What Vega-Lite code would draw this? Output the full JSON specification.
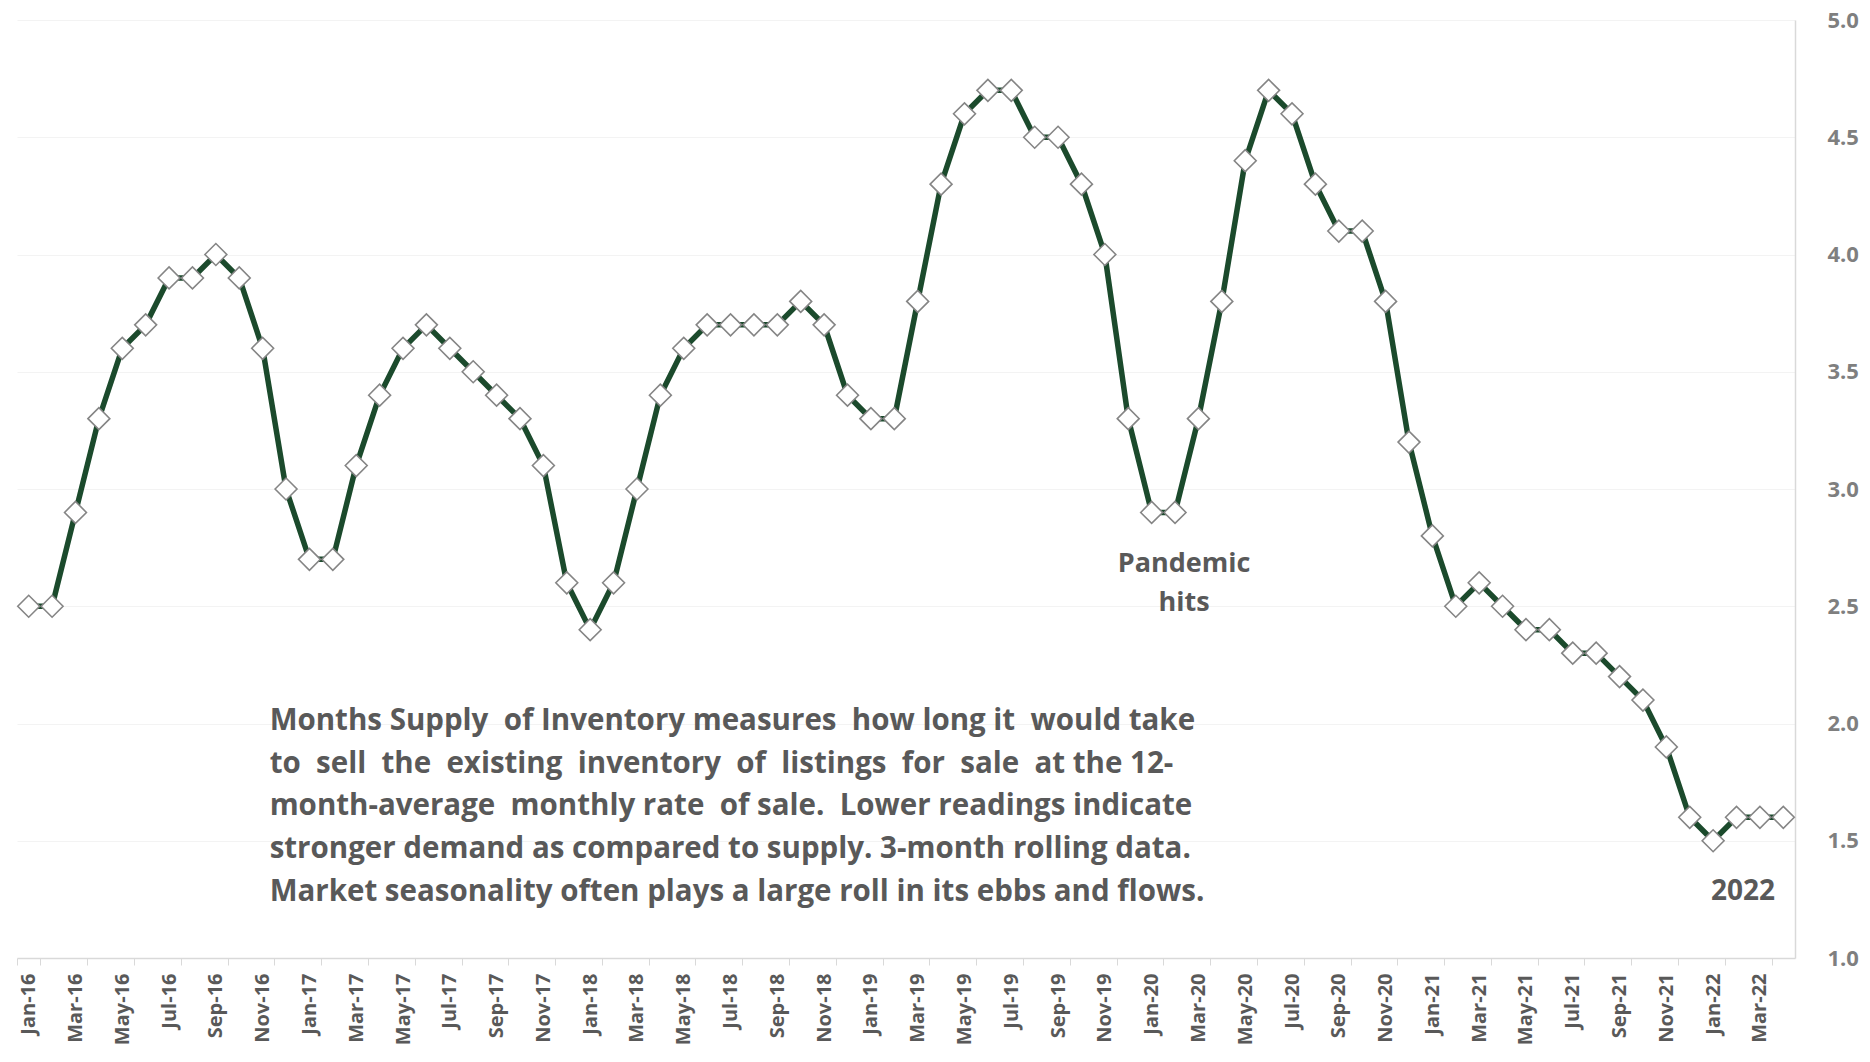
{
  "$schema": "https://vega.github.io/schema/vega-lite/v6.json",
  "width": 1778,
  "height": 938,
  "padding": {"left": 7, "top": 9, "right": 0, "bottom": 0},
  "background": "white",
  "config": {"view": {"stroke": null}, "font": "Open Sans"},
  "datasets": {
    "msi": [
      {"month": "Jan-16", "value": 2.5}, {"month": "Feb-16", "value": 2.5}, {"month": "Mar-16", "value": 2.9}, {"month": "Apr-16", "value": 3.3},
      {"month": "May-16", "value": 3.6}, {"month": "Jun-16", "value": 3.7}, {"month": "Jul-16", "value": 3.9}, {"month": "Aug-16", "value": 3.9},
      {"month": "Sep-16", "value": 4.0}, {"month": "Oct-16", "value": 3.9}, {"month": "Nov-16", "value": 3.6}, {"month": "Dec-16", "value": 3.0},
      {"month": "Jan-17", "value": 2.7}, {"month": "Feb-17", "value": 2.7}, {"month": "Mar-17", "value": 3.1}, {"month": "Apr-17", "value": 3.4},
      {"month": "May-17", "value": 3.6}, {"month": "Jun-17", "value": 3.7}, {"month": "Jul-17", "value": 3.6}, {"month": "Aug-17", "value": 3.5},
      {"month": "Sep-17", "value": 3.4}, {"month": "Oct-17", "value": 3.3}, {"month": "Nov-17", "value": 3.1}, {"month": "Dec-17", "value": 2.6},
      {"month": "Jan-18", "value": 2.4}, {"month": "Feb-18", "value": 2.6}, {"month": "Mar-18", "value": 3.0}, {"month": "Apr-18", "value": 3.4},
      {"month": "May-18", "value": 3.6}, {"month": "Jun-18", "value": 3.7}, {"month": "Jul-18", "value": 3.7}, {"month": "Aug-18", "value": 3.7},
      {"month": "Sep-18", "value": 3.7}, {"month": "Oct-18", "value": 3.8}, {"month": "Nov-18", "value": 3.7}, {"month": "Dec-18", "value": 3.4},
      {"month": "Jan-19", "value": 3.3}, {"month": "Feb-19", "value": 3.3}, {"month": "Mar-19", "value": 3.8}, {"month": "Apr-19", "value": 4.3},
      {"month": "May-19", "value": 4.6}, {"month": "Jun-19", "value": 4.7}, {"month": "Jul-19", "value": 4.7}, {"month": "Aug-19", "value": 4.5},
      {"month": "Sep-19", "value": 4.5}, {"month": "Oct-19", "value": 4.3}, {"month": "Nov-19", "value": 4.0}, {"month": "Dec-19", "value": 3.3},
      {"month": "Jan-20", "value": 2.9}, {"month": "Feb-20", "value": 2.9}, {"month": "Mar-20", "value": 3.3}, {"month": "Apr-20", "value": 3.8},
      {"month": "May-20", "value": 4.4}, {"month": "Jun-20", "value": 4.7}, {"month": "Jul-20", "value": 4.6}, {"month": "Aug-20", "value": 4.3},
      {"month": "Sep-20", "value": 4.1}, {"month": "Oct-20", "value": 4.1}, {"month": "Nov-20", "value": 3.8}, {"month": "Dec-20", "value": 3.2},
      {"month": "Jan-21", "value": 2.8}, {"month": "Feb-21", "value": 2.5}, {"month": "Mar-21", "value": 2.6}, {"month": "Apr-21", "value": 2.5},
      {"month": "May-21", "value": 2.4}, {"month": "Jun-21", "value": 2.4}, {"month": "Jul-21", "value": 2.3}, {"month": "Aug-21", "value": 2.3},
      {"month": "Sep-21", "value": 2.2}, {"month": "Oct-21", "value": 2.1}, {"month": "Nov-21", "value": 1.9}, {"month": "Dec-21", "value": 1.6},
      {"month": "Jan-22", "value": 1.5}, {"month": "Feb-22", "value": 1.6}, {"month": "Mar-22", "value": 1.6}, {"month": "Apr-22", "value": 1.6}
    ],
    "pandemic": [
      {"month": "Feb-20", "value": 2.68, "text": ["Pandemic", "hits"]}
    ],
    "year": [
      {"month": "Mar-22", "value": 1.28, "text": "2022"}
    ],
    "para": [
      {"month": "Nov-16", "value": 2.01, "text": [
        "Months Supply\u00a0 of Inventory measures\u00a0 how long it\u00a0 would take",
        "to\u00a0 sell\u00a0 the\u00a0 existing\u00a0 inventory\u00a0 of\u00a0 listings\u00a0 for\u00a0 sale\u00a0 at the 12-",
        "month-average\u00a0 monthly rate\u00a0 of sale.\u00a0 Lower readings indicate",
        "stronger demand as compared to supply. 3-month rolling data.",
        "Market seasonality often plays a large roll in its ebbs and flows."
      ]}
    ]
  },
  "layer": [
    {
      "data": {"name": "msi"},
      "mark": {"type": "line", "color": "#1b4a2c", "strokeWidth": 5.5},
      "encoding": {
        "x": {
          "field": "month", "type": "ordinal", "sort": null, "bandPosition": 0.5,
          "scale": {"type": "band", "paddingInner": 0, "paddingOuter": 0},
          "axis": {
            "title": null, "labelAngle": -90, "labelFontSize": 20, "labelFontWeight": "bold", "labelColor": "#595959",
            "labelPadding": 8, "tickSize": 7, "tickColor": "#d9d9d9", "domainColor": "#d9d9d9", "domainWidth": 1.5,
            "tickBand": "extent", "grid": false, "labelFont": "Open Sans",
            "values": ["Jan-16","Mar-16","May-16","Jul-16","Sep-16","Nov-16","Jan-17","Mar-17","May-17","Jul-17","Sep-17","Nov-17","Jan-18","Mar-18","May-18","Jul-18","Sep-18","Nov-18","Jan-19","Mar-19","May-19","Jul-19","Sep-19","Nov-19","Jan-20","Mar-20","May-20","Jul-20","Sep-20","Nov-20","Jan-21","Mar-21","May-21","Jul-21","Sep-21","Nov-21","Jan-22","Mar-22"]
          }
        },
        "y": {
          "field": "value", "type": "quantitative",
          "scale": {"domain": [1, 5], "nice": false, "zero": false},
          "axis": {
            "title": null, "orient": "right", "values": [1, 1.5, 2, 2.5, 3, 3.5, 4, 4.5, 5], "format": ".1f",
            "labelFontSize": 22, "labelFontWeight": "bold", "labelColor": "#7f7f7f", "labelPadding": 32, "tickSize": 0,
            "domainColor": "#d9d9d9", "domainWidth": 1.5, "grid": true, "gridColor": "#f3f3f3", "labelFont": "Open Sans"
          }
        }
      }
    },
    {
      "data": {"name": "msi"},
      "mark": {"type": "point", "shape": "diamond", "filled": true, "fill": "white", "stroke": "#858585", "strokeWidth": 1.6, "size": 480, "opacity": 1},
      "encoding": {
        "x": {"field": "month", "type": "ordinal", "sort": null, "bandPosition": 0.5},
        "y": {"field": "value", "type": "quantitative"}
      }
    },
    {
      "data": {"name": "pandemic"},
      "mark": {"type": "text", "fontSize": 27, "fontWeight": "bold", "color": "#595959", "align": "center", "baseline": "middle", "lineHeight": 39, "dx": 9},
      "encoding": {
        "x": {"field": "month", "type": "ordinal", "sort": null, "bandPosition": 0.5},
        "y": {"field": "value", "type": "quantitative"},
        "text": {"field": "text"}
      }
    },
    {
      "data": {"name": "year"},
      "mark": {"type": "text", "fontSize": 28, "fontWeight": "bold", "color": "#595959", "align": "center", "baseline": "middle", "dx": -17},
      "encoding": {
        "x": {"field": "month", "type": "ordinal", "sort": null, "bandPosition": 0.5},
        "y": {"field": "value", "type": "quantitative"},
        "text": {"field": "text"}
      }
    },
    {
      "data": {"name": "para"},
      "mark": {"type": "text", "fontSize": 29.5, "fontWeight": "bold", "color": "#595959", "align": "left", "baseline": "middle", "lineHeight": 42.6, "dx": 7},
      "encoding": {
        "x": {"field": "month", "type": "ordinal", "sort": null, "bandPosition": 0.5},
        "y": {"field": "value", "type": "quantitative"},
        "text": {"field": "text"}
      }
    }
  ]
}
